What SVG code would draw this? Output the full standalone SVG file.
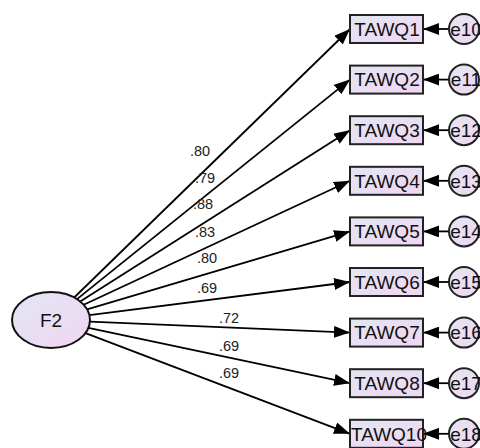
<svg xmlns="http://www.w3.org/2000/svg" width="480" height="448" viewBox="0 0 480 448">
  <defs>
    <linearGradient id="fillGrad" x1="0" y1="0" x2="1" y2="1">
      <stop offset="0" stop-color="#e2e6f3"/>
      <stop offset="1" stop-color="#f0d6f2"/>
    </linearGradient>
    <marker id="head" markerUnits="userSpaceOnUse" markerWidth="16" markerHeight="12" refX="16" refY="6" orient="auto">
      <path d="M0,0 L16,6 L0,12 Z" fill="#000"/>
    </marker>
    <style>
      .box { fill: url(#fillGrad); stroke: #222; stroke-width: 2; }
      .err { fill: url(#fillGrad); stroke: #222; stroke-width: 2; }
      .lat { fill: url(#fillGrad); stroke: #111; stroke-width: 2; }
      .lbl { font-family: "Liberation Sans", Arial, sans-serif; font-size: 19px; fill: #111; text-anchor: middle; }
      .coef { font-family: "Liberation Sans", Arial, sans-serif; font-size: 14.5px; fill: #222; }
      .path { stroke: #000; stroke-width: 1.8; fill: none; marker-end: url(#head); }
    </style>
  </defs>

  <!-- connectors: factor loadings and error terms -->
  <g id="connectors">
    <line class="path" x1="74.2" y1="297.5" x2="350" y2="29"/>
    <line class="path" x1="77.0" y1="299.1" x2="350" y2="79.6"/>
    <line class="path" x1="80.2" y1="301.5" x2="350" y2="130.2"/>
    <line class="path" x1="83.7" y1="304.8" x2="350" y2="180.8"/>
    <line class="path" x1="87.1" y1="309.3" x2="350" y2="231.4"/>
    <line class="path" x1="89.4" y1="315.1" x2="350" y2="282"/>
    <line class="path" x1="89.9" y1="321.6" x2="350" y2="332.6"/>
    <line class="path" x1="88.4" y1="327.9" x2="350" y2="383.2"/>
    <line class="path" x1="85.5" y1="333.1" x2="350" y2="433.8"/>

    <line class="path" x1="449" y1="29" x2="423" y2="29"/>
    <line class="path" x1="449" y1="79.6" x2="423" y2="79.6"/>
    <line class="path" x1="449" y1="130.2" x2="423" y2="130.2"/>
    <line class="path" x1="449" y1="180.8" x2="423" y2="180.8"/>
    <line class="path" x1="449" y1="231.4" x2="423" y2="231.4"/>
    <line class="path" x1="449" y1="282" x2="423" y2="282"/>
    <line class="path" x1="449" y1="332.6" x2="423" y2="332.6"/>
    <line class="path" x1="449" y1="383.2" x2="423" y2="383.2"/>
    <line class="path" x1="449" y1="433.8" x2="423" y2="433.8"/>

    <text class="coef" x="190" y="156">.80</text>
    <text class="coef" x="195" y="183">.79</text>
    <text class="coef" x="193" y="209">.88</text>
    <text class="coef" x="195" y="237">.83</text>
    <text class="coef" x="197" y="263">.80</text>
    <text class="coef" x="197" y="293">.69</text>
    <text class="coef" x="219" y="323">.72</text>
    <text class="coef" x="219" y="351">.69</text>
    <text class="coef" x="219" y="378">.69</text>
  </g>

  <!-- latent factor -->
  <g id="F2">
    <ellipse class="lat" cx="51" cy="320" rx="39" ry="28"/>
    <text class="lbl" x="51" y="326.5">F2</text>
  </g>

  <!-- observed indicators -->
  <g id="TAWQ1"><rect class="box" x="350" y="15" width="73" height="28"/><text class="lbl" x="387" y="35.8">TAWQ1</text></g>
  <g id="TAWQ2"><rect class="box" x="350" y="65.6" width="73" height="28"/><text class="lbl" x="387" y="86.4">TAWQ2</text></g>
  <g id="TAWQ3"><rect class="box" x="350" y="116.2" width="73" height="28"/><text class="lbl" x="387" y="137">TAWQ3</text></g>
  <g id="TAWQ4"><rect class="box" x="350" y="166.8" width="73" height="28"/><text class="lbl" x="387" y="187.6">TAWQ4</text></g>
  <g id="TAWQ5"><rect class="box" x="350" y="217.4" width="73" height="28"/><text class="lbl" x="387" y="238.2">TAWQ5</text></g>
  <g id="TAWQ6"><rect class="box" x="350" y="268" width="73" height="28"/><text class="lbl" x="387" y="288.8">TAWQ6</text></g>
  <g id="TAWQ7"><rect class="box" x="350" y="318.6" width="73" height="28"/><text class="lbl" x="387" y="339.4">TAWQ7</text></g>
  <g id="TAWQ8"><rect class="box" x="350" y="369.2" width="73" height="28"/><text class="lbl" x="387" y="390">TAWQ8</text></g>
  <g id="TAWQ10"><rect class="box" x="350" y="419.8" width="73" height="28"/><text class="lbl" x="389" y="440.6">TAWQ10</text></g>

  <!-- error terms -->
  <g id="e10"><circle class="err" cx="464" cy="29" r="15"/><text class="lbl" x="466" y="35.8">e10</text></g>
  <g id="e11"><circle class="err" cx="464" cy="79.6" r="15"/><text class="lbl" x="466" y="86.4">e11</text></g>
  <g id="e12"><circle class="err" cx="464" cy="130.2" r="15"/><text class="lbl" x="466" y="137">e12</text></g>
  <g id="e13"><circle class="err" cx="464" cy="180.8" r="15"/><text class="lbl" x="466" y="187.6">e13</text></g>
  <g id="e14"><circle class="err" cx="464" cy="231.4" r="15"/><text class="lbl" x="466" y="238.2">e14</text></g>
  <g id="e15"><circle class="err" cx="464" cy="282" r="15"/><text class="lbl" x="466" y="288.8">e15</text></g>
  <g id="e16"><circle class="err" cx="464" cy="332.6" r="15"/><text class="lbl" x="466" y="339.4">e16</text></g>
  <g id="e17"><circle class="err" cx="464" cy="383.2" r="15"/><text class="lbl" x="466" y="390">e17</text></g>
  <g id="e18"><circle class="err" cx="464" cy="433.8" r="15"/><text class="lbl" x="466" y="440.6">e18</text></g>
</svg>
